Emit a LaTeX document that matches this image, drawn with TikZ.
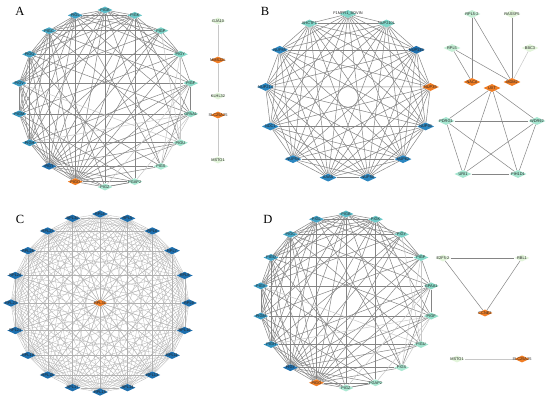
\documentclass[tikz,border=0pt]{standalone}
\usepackage{fontspec}
\setmainfont{Liberation Serif}
\newfontfamily\lblfont{Liberation Sans}
\usetikzlibrary{shapes.geometric,backgrounds}
\definecolor{orng}{HTML}{F07D24}
\definecolor{dblue}{HTML}{1D6FAE}
\definecolor{mblue}{HTML}{2B86C0}
\definecolor{pale}{HTML}{E2F5DA}
\definecolor{lgreen}{HTML}{C6EFD6}
\definecolor{aqua}{HTML}{A6E6D0}
\definecolor{cy}{HTML}{7FD6C9}
\definecolor{k0}{HTML}{5ABCC9}
\definecolor{k1}{HTML}{6CC9C9}
\definecolor{k2}{HTML}{7DD3C8}
\definecolor{k3}{HTML}{84D8C8}
\definecolor{k4}{HTML}{88D9C6}
\definecolor{k5}{HTML}{93DEC9}
\definecolor{k6}{HTML}{A0E4CE}
\definecolor{k7}{HTML}{ABE9D3}
\definecolor{k11}{HTML}{1D6FAE}
\definecolor{k12}{HTML}{3192BE}
\definecolor{k13}{HTML}{3597C1}
\definecolor{k14}{HTML}{3A9CC4}
\definecolor{k15}{HTML}{3FA1C5}
\definecolor{k16}{HTML}{48AAC8}
\definecolor{edgec}{HTML}{858585}
\definecolor{edgel}{HTML}{C8C8C8}
\begin{document}
\begin{tikzpicture}[x=1pt,y=-1pt,
  gn/.style={diamond, minimum width=15pt, minimum height=7pt, inner sep=0pt, draw=none},
  gb/.style={diamond, minimum width=17pt, minimum height=8pt, inner sep=0pt, draw=none},
  lbl/.style={font=\lblfont\fontsize{3.9}{4}\selectfont, text=black!85, inner sep=0pt},
  edge/.style={draw=edgec, line width=0.5pt},
  ledge/.style={draw=edgel, line width=0.5pt},
  cedge/.style={draw=black!30, line width=0.28pt},
  panel/.style={font=\fontsize{12.5}{12.5}\selectfont, inner sep=0pt}]
\useasboundingbox (0,0) rectangle (550,401);
\begin{scope}[on background layer]
\fill[white] (0,0) rectangle (550,401);
\end{scope}

% panel letters
\node[panel] (LA) at (20,11) {A};
\node[panel] (LB) at (265,11) {B};
\node[panel] (LC) at (20,219) {C};
\node[panel] (LD) at (268,219) {D};

% ---------------- Panel A ----------------
\foreach \k/\t/\c in {0/PIGB/k0,1/PIGK/k1,2/PIGP/k2,3/PIGY/k3,4/PIGF/k4,5/GPAA1/k5,
  6/PIGU/k6,7/PIGS/k7,8/PGAP2/k7,9/PIGZ/k7,10/PIGO/orng,11/PIGT/k11,12/PIGH/k12,
  13/PIGM/k13,14/PIGV/k14,15/PIGQ/k15,16/PIGC/k16,17/PIGL/k15}{
  \pgfmathsetmacro\a{90-20*\k}
  \node[gn, fill=\c, label={[lbl]center:\t}] (A\k) at ({105+87*cos(\a)},{98.5-88.5*sin(\a)}) {};
}
\node[gn, fill=pale,  label={[lbl]center:GJA10}] (gja) at (218,21) {};
\node[gn, fill=orng,  label={[lbl]center:MMS22L}] (mms) at (218,60) {};
\node[gn, fill=pale,  label={[lbl]center:KLHL32}] (klh) at (218,96) {};
\node[gn, fill=orng,  label={[lbl]center:SLC25A25}] (slcA) at (218,115) {};
\node[gn, fill=pale,  label={[lbl]center:MSTO1}] (msA) at (218,160) {};

% ---------------- Panel D ----------------
\foreach \k/\t/\c in {0/PIGB/k0,1/PIGK/k1,2/PIGY/k2,3/PIGP/k3,4/GPAA1/k4,5/PIGF/k5,
  6/PIGU/k6,7/PIGS/k7,8/PGAP2/k7,9/PIGZ/k7,10/PIGO/orng,11/PIGT/k11,12/PIGH/k12,
  13/PIGM/k13,14/PIGV/k14,15/PIGQ/k15,16/PIGC/k16,17/PIGL/k15}{
  \pgfmathsetmacro\a{90-20*\k}
  \node[gn, fill=\c, label={[lbl]center:\t}] (D\k) at ({346+86.5*cos(\a)},{301-87*sin(\a)}) {};
}
\node[gn, fill=pale, label={[lbl]center:E2F5-2}] (e2f) at (443,258) {};
\node[gn, fill=pale, label={[lbl]center:RBL1}] (rbl) at (522,258) {};
\node[gn, fill=orng, label={[lbl]center:CCNE2}] (ccn) at (485,313) {};
\node[gn, fill=pale, label={[lbl]center:MSTO1}] (msD) at (457,359) {};
\node[gn, fill=orng, label={[lbl]center:SLC25A25}] (slcD) at (522,359) {};

% ---------------- Panel B ----------------
\foreach \k/\t/\c in {0/F1MFR1\_BOVIN/cy,1/NUP210L/cy,2/NUP133/dblue,3/NUP35/orng,
  4/NUP93/mblue,5/NUP62/mblue,6/NUP50/mblue,7/AAAS/mblue,8/NUP54/mblue,9/NDC1/mblue,
  10/NUP214/mblue,11/NUP85/mblue,12/AHCTF1/cy}{
  \pgfmathsetmacro\a{90-360/13*\k}
  \node[gb, fill=\c, label={[lbl]center:\t}] (B\k) at ({348+83*cos(\a)},{97-83*sin(\a)}) {};
}
\node[gb, fill=lgreen, label={[lbl]center:RPL5-2}] (rpl52) at (472,14) {};
\node[gb, fill=pale,   label={[lbl]center:RASSF5}] (rass) at (512,14) {};
\node[gb, fill=lgreen, label={[lbl]center:RPL5}] (rpl5) at (452,48) {};
\node[gb, fill=pale,   label={[lbl]center:BBC3}] (bbc) at (530,48) {};
\node[gb, fill=orng,   label={[lbl]center:NACA}] (naca) at (472,82) {};
\node[gb, fill=orng,   label={[lbl]center:MDM2}] (mdm) at (512,82) {};
\node[gb, fill=orng,   label={[lbl]center:UXT}] (uxt) at (492,88) {};
\node[gb, fill=aqua,   label={[lbl]center:PDRG1}] (pdr) at (446,121) {};
\node[gb, fill=aqua,   label={[lbl]center:WDR92}] (wdr) at (537,121) {};
\node[gb, fill=aqua,   label={[lbl]center:URI1}] (uri) at (463,174) {};
\node[gb, fill=aqua,   label={[lbl]center:PIH1D1}] (pih) at (518,174) {};

% ---------------- Panel C ----------------
\foreach \k/\t in {0/RPL4,1/RPL5,2/RPL6,3/RPL7,4/RPL8,5/RPL9,6/RPL10,7/RPL11,8/RPL13,
  9/RPL14,10/RPL15,11/RPL17,12/RPL18,13/RPL19,14/RPL21,15/RPL23,16/RPL24,17/RPL26,
  18/RPL27,19/RPL30}{
  \pgfmathsetmacro\a{90-18*\k}
  \node[gb, minimum width=16pt, minimum height=7.5pt, fill=dblue, label={[lbl]center:\t}] (C\k) at ({100+89*cos(\a)},{303-89*sin(\a)}) {};
}
\node[gb, minimum width=14pt, minimum height=7pt, fill=orng, label={[lbl]center:RPL31}] (Cc) at (100,303) {};

% ---------------- Edges ----------------
\begin{scope}[on background layer]
\foreach \P in {A,D}{
  \foreach \i/\j in {10/11,10/12,10/13,10/14,10/15,10/16,10/17,10/0,10/1,
    11/12,11/13,11/14,11/15,11/16,11/17,11/0,11/1,
    12/13,12/14,12/15,12/16,12/17,12/0,
    13/14,13/15,13/16,13/17,13/1,
    14/15,14/16,14/17,14/0,14/1,
    15/16,15/17,15/0,15/1,
    16/17,16/0,16/1,17/0,17/1,0/1,
    2/0,2/16,2/17,2/11,2/10,2/12,2/14,2/3,
    3/15,3/0,3/1,3/17,3/11,3/10,3/13,3/4,
    4/14,4/11,4/10,4/16,4/0,4/12,4/7,
    5/13,5/11,5/10,5/15,5/17,5/1,5/4,
    6/11,6/10,6/12,6/16,6/1,
    7/11,7/10,7/14,7/0,7/17,
    8/11,8/10,8/13,8/15,8/1,8/9,
    9/11,9/10,9/12,9/16,9/0,9/8}{
    \draw[edge] (\P\i) -- (\P\j);
  }
  \foreach \i/\j in {2/6,3/7,5/8,6/14,4/9,5/12,6/3,7/5}{
    \draw[ledge] (\P\i) -- (\P\j);
  }
}
\draw[ledge] (gja) -- (mms);
\draw[ledge] (mms) -- (klh);
\draw[ledge] (slcA) -- (msA);
\draw[edge] (e2f) -- (rbl);
\draw[edge] (e2f) -- (ccn);
\draw[edge] (rbl) -- (ccn);
\draw[ledge] (msD) -- (slcD);
% B circle: complete graph
\foreach \i in {0,...,11}{
  \pgfmathtruncatemacro\s{\i+1}
  \foreach \j in {\s,...,12}{
    \draw[edge] (B\i) -- (B\j);
  }
}
\draw[edge] (rpl52) -- (naca);
\draw[edge] (rpl52) -- (mdm);
\draw[edge] (rass) -- (mdm);
\draw[edge] (rpl5) -- (naca);
\draw[edge] (rpl5) -- (mdm);
\draw[ledge] (bbc) -- (mdm);
\foreach \u/\v in {uxt/pdr,uxt/wdr,uxt/uri,uxt/pih,pdr/wdr,pdr/uri,pdr/pih,wdr/uri,wdr/pih,uri/pih}{
  \draw[edge] (\u) -- (\v);
}
% C: complete graph
\foreach \i in {0,...,18}{
  \pgfmathtruncatemacro\s{\i+1}
  \foreach \j in {\s,...,19}{
    \draw[cedge] (C\i) -- (C\j);
  }
}
\foreach \i in {0,...,19}{
  \draw[cedge] (Cc) -- (C\i);
}
\end{scope}
\end{tikzpicture}
\end{document}
